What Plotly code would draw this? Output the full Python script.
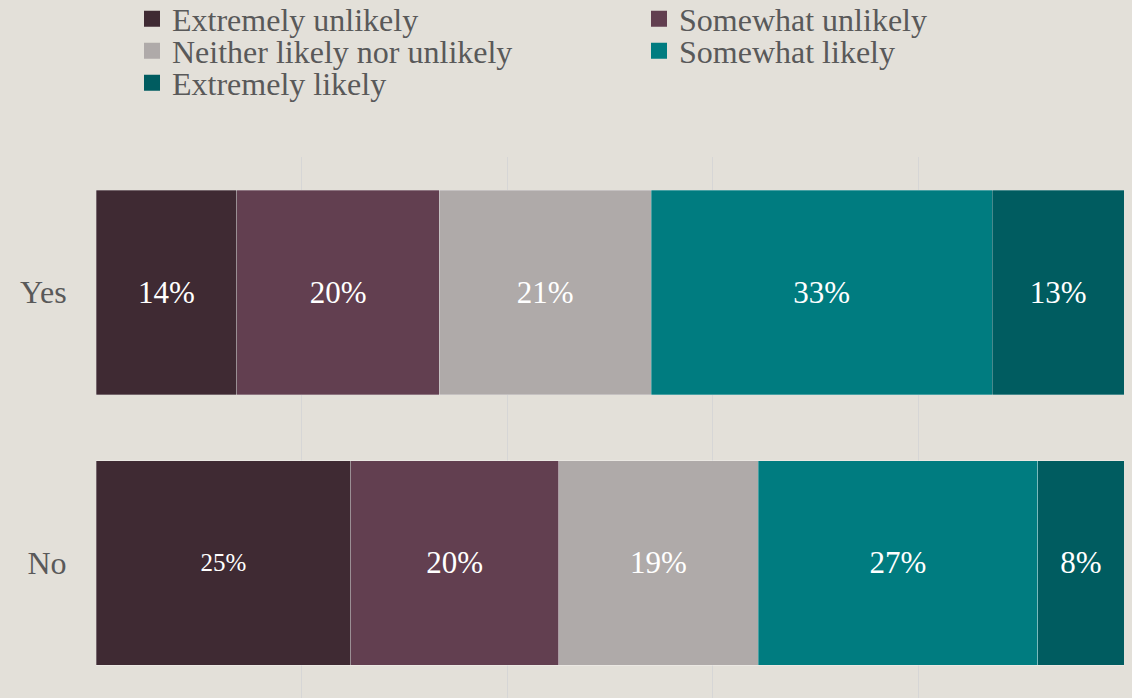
import plotly.graph_objects as go

categories = ["Yes", "No"]
series_names = ["Extremely unlikely", "Somewhat unlikely", "Neither likely nor unlikely",
                "Somewhat likely", "Extremely likely"]
extremely_unlikely = [13.7, 24.8]
somewhat_unlikely = [19.7, 20.2]
neither = [20.6, 19.4]
somewhat_likely = [33.2, 27.2]
extremely_likely = [12.8, 8.4]
series_values = [extremely_unlikely, somewhat_unlikely, neither, somewhat_likely, extremely_likely]
colors = ["#3F2A33", "#623F50", "#AFAAA9", "#007C80", "#005C60"]
label_sizes = [[31, 25], [31, 31], [31, 31], [31, 31], [31, 31]]
legend_ids = ["legend", "legend", "legend2", "legend2", "legend3"]

FONT = "Liberation Serif, Times New Roman, serif"
BG = "#E3E0D9"

fig = go.Figure()
for name, vals, col, sz in zip(series_names, series_values, colors, label_sizes):
    fig.add_trace(go.Bar(
        y=categories, x=vals, name=name, orientation="h",
        marker=dict(color=col, line=dict(color="rgba(255,255,255,0.35)", width=0.8)),
        texttemplate="%{x:.0f}%", textposition="inside", insidetextanchor="middle",
        textfont=dict(color="white", size=sz, family=FONT),
        constraintext="none", showlegend=False, hoverinfo="name+x",
    ))

# legend entries (square swatches)
for name, col, lg in zip(series_names, colors, legend_ids):
    fig.add_trace(go.Scatter(
        x=[None], y=[None], mode="markers", name=name, legend=lg,
        marker=dict(symbol="square", size=16, color=col, line=dict(width=0)),
        showlegend=True, hoverinfo="skip",
    ))

leg_common = dict(orientation="h", xref="container", yref="container",
                  xanchor="left", yanchor="middle", bgcolor="rgba(0,0,0,0)",
                  font=dict(family=FONT, size=32, color="#595959"),
                  entrywidth=462, entrywidthmode="pixels", traceorder="normal",
                  itemsizing="trace")

fig.update_layout(
    width=1132, height=698,
    paper_bgcolor=BG, plot_bgcolor=BG,
    barmode="stack", bargap=0.244,
    margin=dict(l=96, r=8, t=157, b=0),
    font=dict(family=FONT, color="#595959"),
    legend=dict(x=132 / 1132, y=1 - 19 / 698, **leg_common),
    legend2=dict(x=132 / 1132, y=1 - 51 / 698, **leg_common),
    legend3=dict(x=132 / 1132, y=1 - 83 / 698, **leg_common),
    xaxis=dict(range=[0, 100], dtick=20, showgrid=True, gridcolor="#D6D6D6", gridwidth=1,
               showticklabels=False, zeroline=False, showline=False, ticks="", fixedrange=True),
    yaxis=dict(type="category", autorange="reversed", showgrid=False, zeroline=False,
               showline=False, ticks="outside", ticklen=22, tickcolor="rgba(0,0,0,0)",
               tickfont=dict(family=FONT, size=32, color="#595959"), fixedrange=True),
    showlegend=True,
)

fig.write_html("out.html")
